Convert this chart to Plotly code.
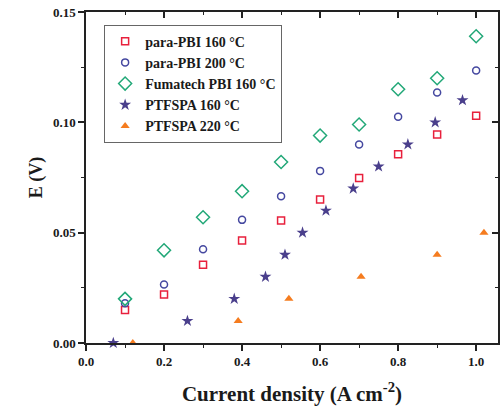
import plotly.graph_objects as go

# Current density (A cm^-2) and E (V) for each membrane
pbi160_x = [0.10, 0.20, 0.30, 0.40, 0.50, 0.60, 0.70, 0.80, 0.90, 1.00]
pbi160_y = [0.015, 0.022, 0.0355, 0.0465, 0.0555, 0.065, 0.0748, 0.0855, 0.0945, 0.103]

pbi200_x = [0.10, 0.20, 0.30, 0.40, 0.50, 0.60, 0.70, 0.80, 0.90, 1.00]
pbi200_y = [0.018, 0.0265, 0.0425, 0.0558, 0.0665, 0.078, 0.09, 0.1025, 0.1135, 0.1235]

fuma_x = [0.10, 0.20, 0.30, 0.40, 0.50, 0.60, 0.70, 0.80, 0.90, 1.00]
fuma_y = [0.020, 0.042, 0.057, 0.0688, 0.082, 0.094, 0.099, 0.115, 0.120, 0.139]

ptf160_x = [0.07, 0.26, 0.38, 0.46, 0.51, 0.555, 0.615, 0.685, 0.75, 0.825, 0.895, 0.965]
ptf160_y = [0.0, 0.010, 0.020, 0.030, 0.040, 0.050, 0.060, 0.070, 0.080, 0.090, 0.100, 0.110]

ptf220_x = [0.12, 0.39, 0.52, 0.705, 0.90, 1.02]
ptf220_y = [0.0, 0.010, 0.020, 0.030, 0.040, 0.050]

series_names = ["para-PBI 160 °C", "para-PBI 200 °C", "Fumatech PBI 160 °C",
                "PTFSPA 160 °C", "PTFSPA 220 °C"]

x_ticks = [0.0, 0.2, 0.4, 0.6, 0.8, 1.0]
y_ticks = [0.00, 0.05, 0.10, 0.15]

FONT = "Liberation Serif, Times New Roman, serif"
INK = "#1a1a1a"

fig = go.Figure()

styles = [
    (pbi160_x, pbi160_y, "square-open", "#e8203c", 7),
    (pbi200_x, pbi200_y, "circle-open", "#4548a0", 7),
    (fuma_x, fuma_y, "diamond-open", "#22a878", 10),
    (ptf160_x, ptf160_y, "star", "#4a3f8c", 9),
    (ptf220_x, ptf220_y, "triangle-up", "#f57c1f", 8),
]
for name, (xs, ys, sym, col, sz) in zip(series_names, styles):
    fig.add_trace(go.Scatter(
        x=xs, y=ys, mode="markers", name=f"<b>{name}</b>",
        marker=dict(symbol=sym, color=col, size=sz,
                    line=dict(color=col, width=1.5 if "open" in sym else 0)),
        cliponaxis=False,
    ))

# invisible trace so the top/right frame axes are drawn
fig.add_trace(go.Scatter(x=[0], y=[0], xaxis="x2", yaxis="y2", mode="markers",
                         marker=dict(opacity=0), showlegend=False, hoverinfo="skip"))

xr = [0, 1.056]
yr = [0, 0.15]

frame = dict(showline=True, linecolor="#222", linewidth=1.5, showgrid=False, zeroline=False)

fig.update_layout(
    width=500, height=409,
    margin=dict(l=86, r=2, t=12, b=66),
    paper_bgcolor="white", plot_bgcolor="white",
    font=dict(family=FONT, color=INK),
    showlegend=True,
    legend=dict(
        x=0.044, y=0.962, xanchor="left", yanchor="top",
        bgcolor="white", bordercolor="#666666", borderwidth=1,
        font=dict(family=FONT, size=14, color=INK),
        itemsizing="trace", tracegroupgap=0,
    ),
    xaxis=dict(
        range=xr, tickvals=x_ticks, ticktext=[f"<b>{v:.1f}</b>" for v in x_ticks],
        ticks="outside", ticklen=6, tickwidth=1.5, tickcolor="#222",
        minor=dict(dtick=0.1, tick0=0, ticks="outside", ticklen=3, tickwidth=1.2, tickcolor="#222"),
        tickfont=dict(family=FONT, size=13, color=INK),
        title=dict(text="<b>Current density (A cm<sup>-2</sup>)</b>",
                   font=dict(family=FONT, size=21), standoff=18),
        **frame,
    ),
    yaxis=dict(
        range=yr, tickvals=y_ticks, ticktext=[f"<b>{v:.2f}</b>" for v in y_ticks],
        ticks="outside", ticklen=6, tickwidth=1.5, tickcolor="#222",
        minor=dict(dtick=0.025, tick0=0, ticks="outside", ticklen=3, tickwidth=1.2, tickcolor="#222"),
        tickfont=dict(family=FONT, size=13, color=INK),
        title=dict(text="<b>E (V)</b>", font=dict(family=FONT, size=18), standoff=6),
        **frame,
    ),
    xaxis2=dict(
        range=xr, overlaying="x", side="top", showticklabels=False,
        tickvals=x_ticks, ticks="inside", ticklen=6, tickwidth=1.5, tickcolor="#222",
        minor=dict(dtick=0.1, tick0=0, ticks="inside", ticklen=3, tickwidth=1.2, tickcolor="#222"),
        **frame,
    ),
    yaxis2=dict(
        range=yr, overlaying="y", side="right", showticklabels=False,
        tickvals=y_ticks, ticks="inside", ticklen=6, tickwidth=1.5, tickcolor="#222",
        minor=dict(dtick=0.025, tick0=0, ticks="inside", ticklen=3, tickwidth=1.2, tickcolor="#222"),
        **frame,
    ),
)

fig.write_html("out.html")
